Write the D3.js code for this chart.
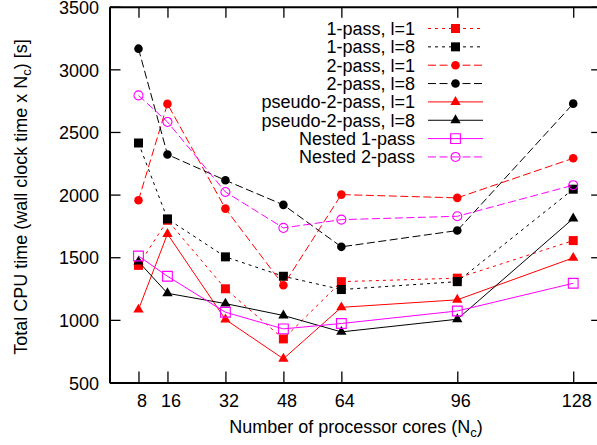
<!DOCTYPE html>
<html lang="en">
<head>
<meta charset="UTF-8" />
<title>Total CPU time vs processor cores</title>
<script src="https://cdn.jsdelivr.net/npm/d3@7"></script>
<style>
  body { margin: 0; background: #fff; }
  text { font-family: "Liberation Sans", Arial, sans-serif; font-size: 18px; fill: #000; }
</style>
</head>
<body>
<svg id="chart" width="597" height="445"></svg>
<script>
  // data
  const cores = [8, 16, 32, 48, 64, 96, 128];
  const yTicks = [500, 1000, 1500, 2000, 2500, 3000, 3500];
  const seriesNames = ["1-pass, l=1", "1-pass, l=8", "2-pass, l=1", "2-pass, l=8",
                       "pseudo-2-pass, l=1", "pseudo-2-pass, l=8", "Nested 1-pass", "Nested 2-pass"];

  const onePassL1  = [1435, 1795, 1248, 848, 1305, 1333, 1633];
  const onePassL8  = [2412, 1806, 1503, 1348, 1242, 1305, 2043];
  const twoPassL1  = [1955, 2724, 1888, 1276, 2000, 1974, 2290];
  const twoPassL8  = [3165, 2320, 2114, 1918, 1583, 1713, 2726];
  const pseudoL1   = [1082, 1686, 1003, 689, 1100, 1160, 1495];
  const pseudoL8   = [1465, 1212, 1130, 1035, 904, 1005, 1809];
  const nested1    = [1510, 1348, 1061, 928, 971, 1071, 1292];
  const nested2    = [2792, 2580, 2021, 1734, 1800, 1827, 2075];

  const seriesValues = [onePassL1, onePassL8, twoPassL1, twoPassL8, pseudoL1, pseudoL8, nested1, nested2];

  // line / point styles, one per series
  const styles = [
    { color: '#ff0000', dash: '3,4',   shape: d3.symbolSquare,   size: 81, filled: true },
    { color: '#000000', dash: '3,4',   shape: d3.symbolSquare,   size: 81, filled: true },
    { color: '#ff0000', dash: '8,3.5', shape: d3.symbolCircle,   size: 58, filled: true },
    { color: '#000000', dash: '8,3.5', shape: d3.symbolCircle,   size: 58, filled: true },
    { color: '#ff0000', dash: null,    shape: d3.symbolTriangle, size: 46, filled: true },
    { color: '#000000', dash: null,    shape: d3.symbolTriangle, size: 46, filled: true },
    { color: '#ff00ff', dash: null,    shape: d3.symbolSquare,   size: 95, filled: false },
    { color: '#ff00ff', dash: '8,3.5', shape: d3.symbolCircle,   size: 64, filled: false }
  ];

  const svg = d3.select('#chart');

  const x = d3.scaleLinear().domain([0, 136]).range([109.5, 602.2]);
  const y = d3.scaleLinear().domain([500, 3500]).range([382.5, 6.7]);

  // axes, ticks drawn inward like gnuplot
  const gBottom = svg.append('g').attr('transform', `translate(0,${y(500)})`)
      .call(d3.axisBottom(x).tickValues(cores).tickSizeInner(-11).tickSizeOuter(0).tickPadding(12));
  gBottom.selectAll('text').attr('dx', 3);

  svg.append('g').attr('transform', `translate(0,${y(3500)})`)
      .call(d3.axisTop(x).tickValues(cores).tickSizeInner(-11).tickSizeOuter(0).tickFormat(''));

  const gLeft = svg.append('g').attr('transform', `translate(${x(0)},0)`)
      .call(d3.axisLeft(y).tickValues(yTicks).tickFormat(d3.format('d'))
          .tickSizeInner(-11).tickSizeOuter(0).tickPadding(10.5));
  gLeft.selectAll('text').attr('dy', '0.37em');

  svg.append('g').attr('transform', `translate(${x(136)},0)`)
      .call(d3.axisRight(y).tickValues(yTicks).tickSizeInner(-11).tickSizeOuter(0).tickFormat(''));

  svg.selectAll('.domain').attr('stroke', '#000').attr('stroke-width', 2);
  svg.selectAll('.tick line').attr('stroke', '#000').attr('stroke-width', 1.3);
  svg.selectAll('.tick text')
      .attr('font-family', '"Liberation Sans", Arial, sans-serif')
      .attr('font-size', 18).attr('fill', '#000');

  // axis titles
  const xt = svg.append('text').attr('x', 356).attr('y', 432.5).attr('text-anchor', 'middle');
  xt.append('tspan').text('Number of processor cores (N');
  xt.append('tspan').attr('font-size', 13).attr('dy', 4).text('c');
  xt.append('tspan').attr('dy', -4).text(')');

  const yt = svg.append('text').attr('transform', 'translate(27,197) rotate(-90)').attr('text-anchor', 'middle');
  yt.append('tspan').text('Total CPU time (wall clock time x N');
  yt.append('tspan').attr('font-size', 13).attr('dy', 4).text('c');
  yt.append('tspan').attr('dy', -4).text(') [s]');

  // series
  const line = d3.line().x(d => x(d[0])).y(d => y(d[1]));

  seriesValues.forEach((vals, i) => {
    const st = styles[i];
    const pts = cores.map((c, j) => [c, vals[j]]);
    const g = svg.append('g');

    g.append('path')
        .attr('d', line(pts))
        .attr('fill', 'none')
        .attr('stroke', st.color)
        .attr('stroke-width', 1)
        .attr('stroke-dasharray', st.dash);

    g.selectAll('path.pt').data(pts).enter().append('path')
        .attr('class', 'pt')
        .attr('transform', d => `translate(${x(d[0])},${y(d[1])})`)
        .attr('d', d3.symbol().type(st.shape).size(st.size))
        .attr('fill', st.filled ? st.color : 'none')
        .attr('stroke', st.filled ? 'none' : st.color)
        .attr('stroke-width', 1.1);
  });

  // key
  const key = svg.append('g');
  seriesNames.forEach((name, i) => {
    const st = styles[i];
    const ry = 28.5 + i * 18.35;
    key.append('text').attr('x', 415).attr('y', ry).attr('dy', '0.35em')
        .attr('text-anchor', 'end').text(name);
    key.append('line').attr('x1', 428).attr('x2', 483).attr('y1', ry).attr('y2', ry)
        .attr('stroke', st.color).attr('stroke-width', 1)
        .attr('stroke-dasharray', st.dash);
    key.append('path').attr('transform', `translate(455.5,${ry})`)
        .attr('d', d3.symbol().type(st.shape).size(st.size)())
        .attr('fill', st.filled ? st.color : 'none')
        .attr('stroke', st.filled ? 'none' : st.color)
        .attr('stroke-width', 1.1);
  });
</script>
</body>
</html>
